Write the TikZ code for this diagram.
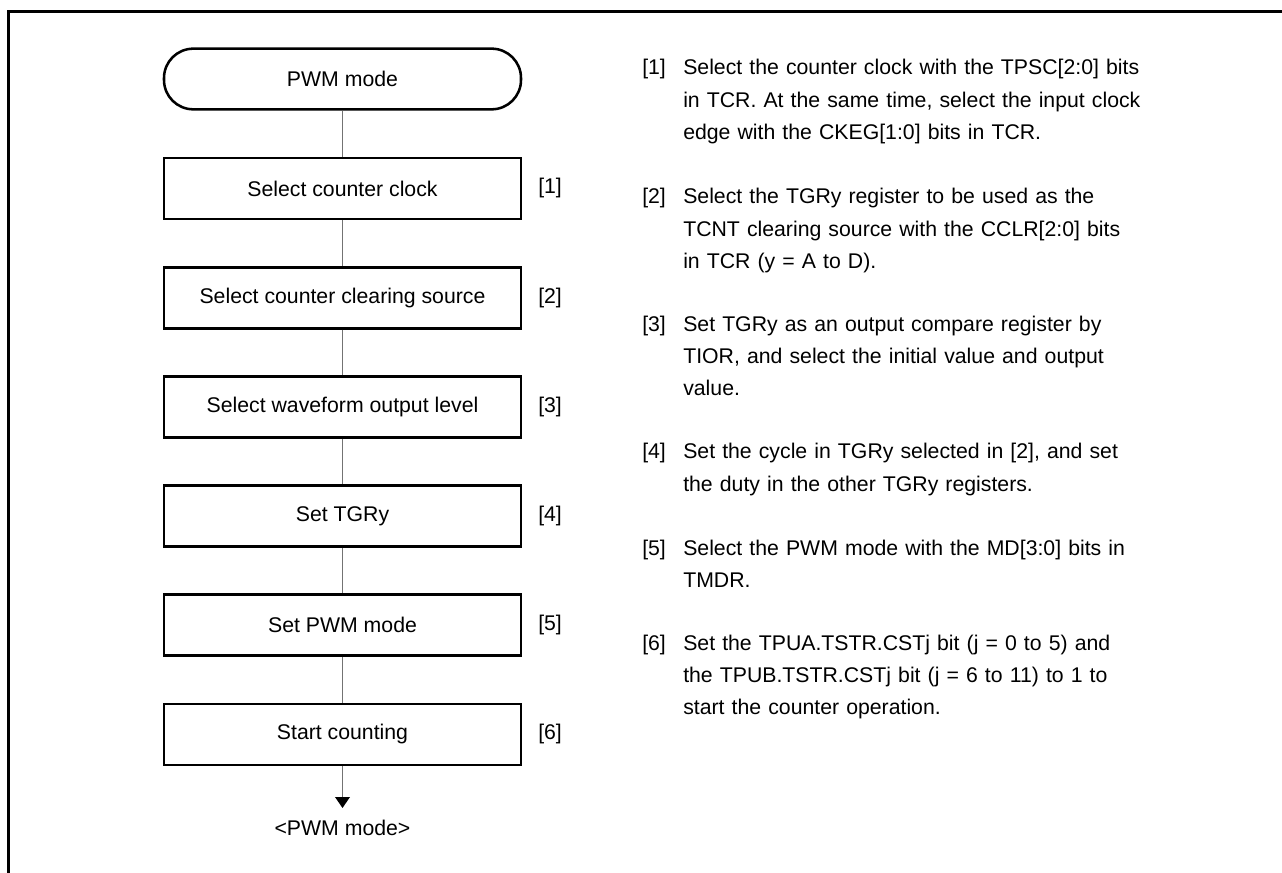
\documentclass[tikz,border=0pt]{standalone}
\usepackage{fontspec}
\setmainfont{Liberation Sans}
\usetikzlibrary{arrows.meta}
\begin{document}
\begin{tikzpicture}[x=0.75pt,y=-0.75pt,
  txt/.style={font=\fontsize{15.94pt}{24.15pt}\selectfont, inner sep=0pt},
  stepbox/.style={txt, draw, line width=2.2pt, minimum width=267.75pt, minimum height=45.75pt},
  term/.style={txt, draw, line width=1.9pt, rounded corners=22pt, minimum width=267.75pt, minimum height=45.5pt},
  conn/.style={draw=black!55, line width=1.1pt},
  para/.style={txt, anchor=base west, text width=430pt, align=left},
  num/.style={txt, anchor=base west}]
\useasboundingbox (0,0) rectangle (1282,873);
% frame (top and left sides)
\draw[line width=2pt] (8.7,880) -- (8.7,11.3) -- (1290,11.3);
% flow chart
\node[term] (start) at (342.5,79) {PWM mode};
\node[stepbox] (s1) at (342.5,188.5) {Select counter clock};
\node[stepbox] (s2) at (342.5,297.7) {Select counter clearing source};
\node[stepbox] (s3) at (342.5,406.9) {Select waveform output level};
\node[stepbox] (s4) at (342.5,516.1) {Set TGRy};
\node[stepbox] (s5) at (342.5,625.3) {Set PWM mode};
\node[stepbox] (s6) at (342.5,734.5) {Start counting};
\node[txt, anchor=west] (n1) at (538,188.5) {[1]};
\node[txt, anchor=west] (n2) at (538,297.7) {[2]};
\node[txt, anchor=west] (n3) at (538,406.9) {[3]};
\node[txt, anchor=west] (n4) at (538,516.1) {[4]};
\node[txt, anchor=west] (n5) at (538,625.3) {[5]};
\node[txt, anchor=west] (n6) at (538,734.5) {[6]};
\coordinate (tip) at (342.5,808);
\node[txt] (endl) at (342.5,828) {<PWM mode>};
\draw[conn] (start) -- (s1);
\draw[conn] (s1) -- (s2);
\draw[conn] (s2) -- (s3);
\draw[conn] (s3) -- (s4);
\draw[conn] (s4) -- (s5);
\draw[conn] (s5) -- (s6);
\draw[conn, -{Triangle[length=8.25pt, width=11pt, color=black]}] (s6) -- (tip);
% descriptions
\node[num] (d1n) at (642,75) {[1]};
\node[para] (d1) at (683,75) {Select the counter clock with the TPSC[2:0] bits\\in TCR. At the same time, select the input clock\\edge with the CKEG[1:0] bits in TCR.};
\node[num] (d2n) at (642,204) {[2]};
\node[para] (d2) at (683,204) {Select the TGRy register to be used as the\\TCNT clearing source with the CCLR[2:0] bits\\in TCR (y = A to D).};
\node[num] (d3n) at (642,331.5) {[3]};
\node[para] (d3) at (683,331.5) {Set TGRy as an output compare register by\\TIOR, and select the initial value and output\\value.};
\node[num] (d4n) at (642,459) {[4]};
\node[para] (d4) at (683,459) {Set the cycle in TGRy selected in [2], and set\\the duty in the other TGRy registers.};
\node[num] (d5n) at (642,555) {[5]};
\node[para] (d5) at (683,555) {Select the PWM mode with the MD[3:0] bits in\\TMDR.};
\node[num] (d6n) at (642,650) {[6]};
\node[para] (d6) at (683,650) {Set the TPUA.TSTR.CSTj bit (j = 0 to 5) and\\the TPUB.TSTR.CSTj bit (j = 6 to 11) to 1 to\\start the counter operation.};
\end{tikzpicture}
\end{document}
